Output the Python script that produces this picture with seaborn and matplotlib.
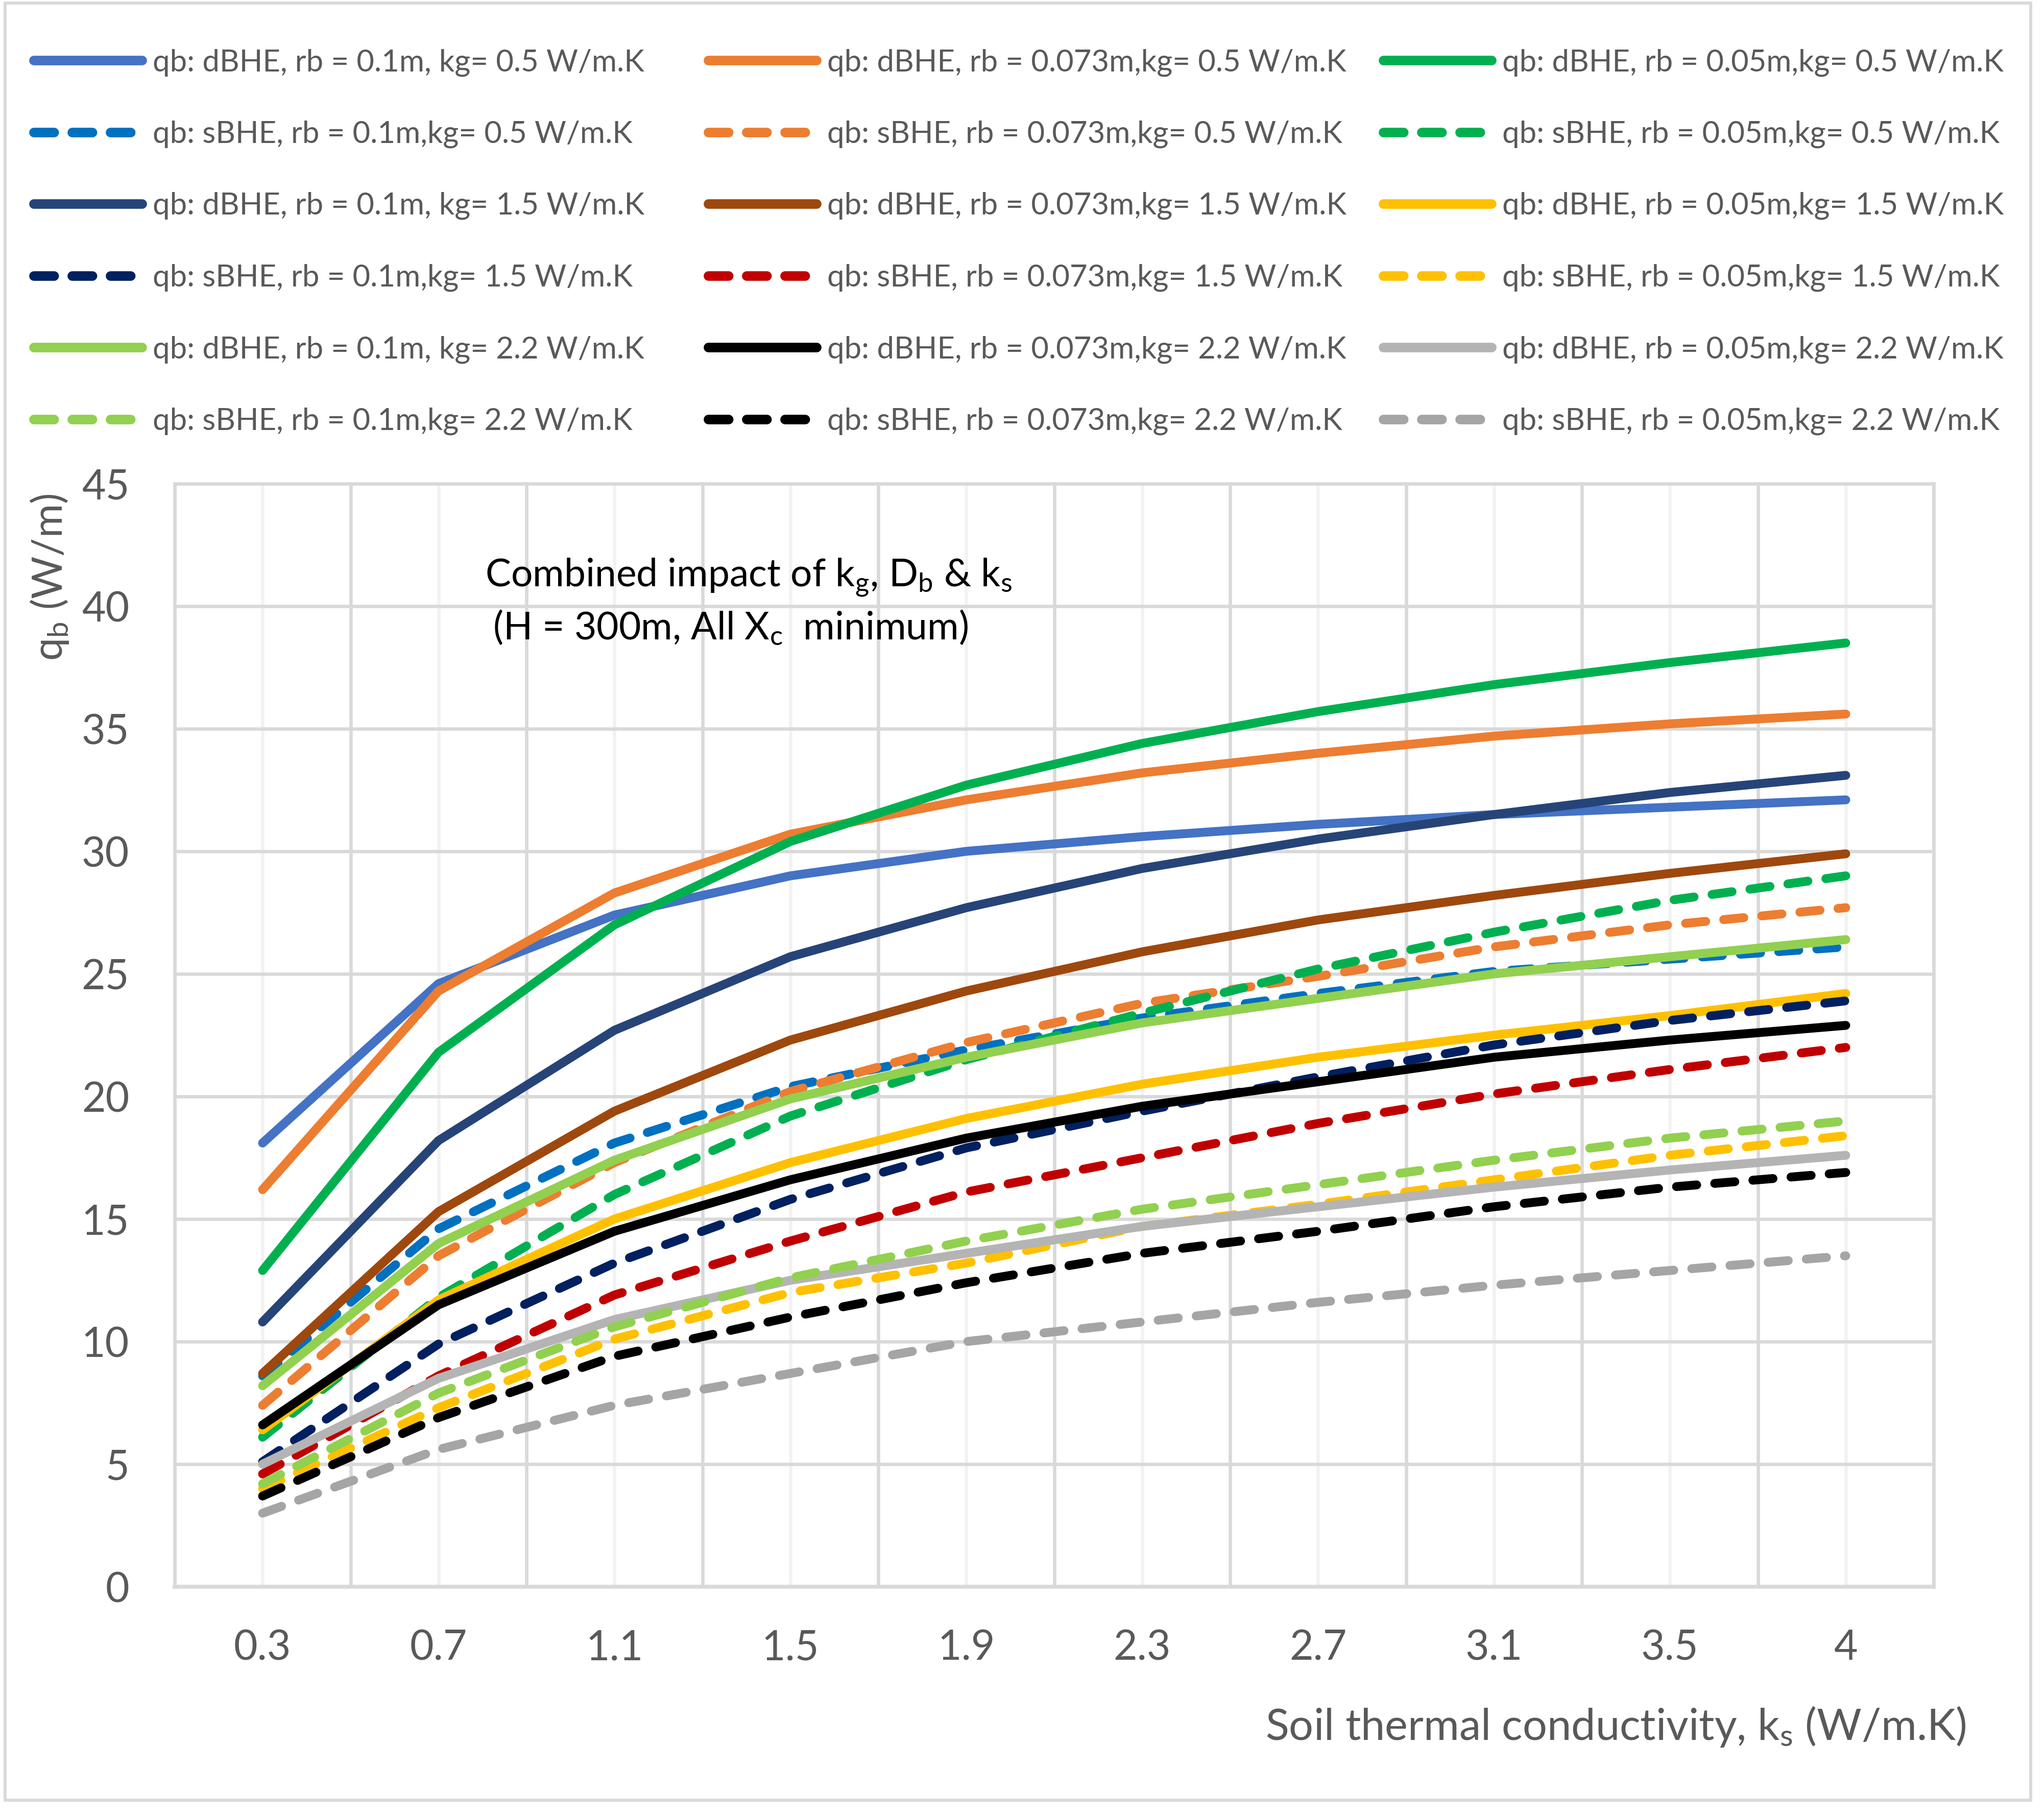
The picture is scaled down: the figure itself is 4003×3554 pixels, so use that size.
import numpy as np
import pandas as pd
import matplotlib
matplotlib.use('Agg')
import matplotlib.pyplot as plt
from matplotlib.lines import Line2D
from matplotlib.patches import Rectangle
import seaborn as sns

# soil thermal conductivity categories
ks_labels = ['0.3', '0.7', '1.1', '1.5', '1.9', '2.3', '2.7', '3.1', '3.5', '4']

# rb = 0.1 m
d_01_05 = [18.1, 24.6, 27.4, 29.0, 30.0, 30.6, 31.1, 31.5, 31.8, 32.1]
s_01_05 = [8.6, 14.6, 18.1, 20.4, 21.9, 23.2, 24.2, 25.1, 25.6, 26.1]
d_01_15 = [10.8, 18.2, 22.7, 25.7, 27.7, 29.3, 30.5, 31.5, 32.4, 33.1]
s_01_15 = [5.1, 9.9, 13.2, 15.8, 17.9, 19.4, 20.8, 22.1, 23.1, 23.9]
d_01_22 = [8.2, 14.0, 17.4, 19.9, 21.6, 23.0, 24.0, 25.0, 25.7, 26.4]
s_01_22 = [4.2, 7.9, 10.6, 12.6, 14.1, 15.4, 16.4, 17.4, 18.3, 19.0]

# rb = 0.073 m
d_073_05 = [16.2, 24.3, 28.3, 30.7, 32.1, 33.2, 34.0, 34.7, 35.2, 35.6]
s_073_05 = [7.4, 13.5, 17.3, 20.2, 22.2, 23.8, 24.9, 26.1, 27.0, 27.7]
d_073_15 = [8.7, 15.3, 19.4, 22.3, 24.3, 25.9, 27.2, 28.2, 29.1, 29.9]
s_073_15 = [4.6, 8.6, 11.9, 14.1, 16.1, 17.5, 18.9, 20.1, 21.1, 22.0]
d_073_22 = [6.6, 11.5, 14.5, 16.6, 18.3, 19.6, 20.6, 21.6, 22.3, 22.9]
s_073_22 = [3.7, 6.9, 9.4, 11.0, 12.4, 13.6, 14.5, 15.5, 16.3, 16.9]

# rb = 0.05 m
d_05_05 = [12.9, 21.8, 27.0, 30.4, 32.7, 34.4, 35.7, 36.8, 37.7, 38.5]
s_05_05 = [6.1, 11.8, 16.0, 19.2, 21.5, 23.4, 25.2, 26.7, 28.0, 29.0]
d_05_15 = [6.4, 11.7, 15.0, 17.3, 19.1, 20.5, 21.6, 22.5, 23.3, 24.2]
s_05_15 = [4.0, 7.3, 10.1, 12.0, 13.2, 14.7, 15.6, 16.6, 17.6, 18.4]
d_05_22 = [5.0, 8.5, 10.9, 12.5, 13.6, 14.7, 15.5, 16.3, 17.0, 17.6]
s_05_22 = [3.0, 5.6, 7.4, 8.7, 10.0, 10.8, 11.6, 12.3, 12.9, 13.5]

labels_01 = ['qb: dBHE, rb = 0.1m, kg= 0.5 W/m.K', 'qb: sBHE, rb = 0.1m,kg= 0.5 W/m.K',
             'qb: dBHE, rb = 0.1m, kg= 1.5 W/m.K', 'qb: sBHE, rb = 0.1m,kg= 1.5 W/m.K',
             'qb: dBHE, rb = 0.1m, kg= 2.2 W/m.K', 'qb: sBHE, rb = 0.1m,kg= 2.2 W/m.K']
labels_073 = ['qb: dBHE, rb = 0.073m,kg= 0.5 W/m.K', 'qb: sBHE, rb = 0.073m,kg= 0.5 W/m.K',
              'qb: dBHE, rb = 0.073m,kg= 1.5 W/m.K', 'qb: sBHE, rb = 0.073m,kg= 1.5 W/m.K',
              'qb: dBHE, rb = 0.073m,kg= 2.2 W/m.K', 'qb: sBHE, rb = 0.073m,kg= 2.2 W/m.K']
labels_05 = ['qb: dBHE, rb = 0.05m,kg= 0.5 W/m.K', 'qb: sBHE, rb = 0.05m,kg= 0.5 W/m.K',
             'qb: dBHE, rb = 0.05m,kg= 1.5 W/m.K', 'qb: sBHE, rb = 0.05m,kg= 1.5 W/m.K',
             'qb: dBHE, rb = 0.05m,kg= 2.2 W/m.K', 'qb: sBHE, rb = 0.05m,kg= 2.2 W/m.K']

colors_01 = ['#4472C4', '#0070C0', '#264478', '#002060', '#92D050', '#92D050']
colors_073 = ['#ED7D31', '#ED7D31', '#9E480E', '#C00000', '#000000', '#000000']
colors_05 = ['#00B050', '#00B050', '#FFC000', '#FFC000', '#B4B4B4', '#A5A5A5']

values_01 = [d_01_05, s_01_05, d_01_15, s_01_15, d_01_22, s_01_22]
values_073 = [d_073_05, s_073_05, d_073_15, s_073_15, d_073_22, s_073_22]
values_05 = [d_05_05, s_05_05, d_05_15, s_05_15, d_05_22, s_05_22]
dashed = [False, True, False, True, False, True]

columns = [(labels_01, colors_01, values_01), (labels_073, colors_073, values_073),
           (labels_05, colors_05, values_05)]

sns.set_style('white')
plt.rcParams['font.family'] = ['Lato', 'DejaVu Sans']
plt.rcParams['lines.scale_dashes'] = False

W, H = 4003, 3554
DASH = (28.5, 25.5)
LW = 12.5
GRID = '#D9D9D9'
TXT = '#595959'

# long table, rows in Excel series order (row-major over legend)
rows = []
order = []
pal = {}
dash_map = {}
for r in range(6):
    for labels, colors, values in columns:
        lab = labels[r]
        order.append(lab)
        pal[lab] = colors[r]
        dash_map[lab] = DASH if dashed[r] else ''
        for i, v in enumerate(values[r]):
            rows.append({'x': i, 'qb': v, 'series': lab})
df = pd.DataFrame(rows)

fig = plt.figure(figsize=(W / 100, H / 100), dpi=100)
ax = fig.add_axes([342 / W, 1 - 3107 / H, 3445 / W, 2160 / H])

sns.lineplot(data=df, x='x', y='qb', hue='series', style='series', hue_order=order,
             style_order=order, palette=pal, dashes=dash_map, linewidth=LW,
             estimator=None, sort=False, legend=False, ax=ax)
for ln in ax.lines:
    ln.set_solid_capstyle('round')
    ln.set_dash_capstyle('round')
    ln.set_solid_joinstyle('round')
    ln.set_dash_joinstyle('round')

ax.set_xlim(-0.5, 9.5)
ax.set_ylim(0, 45)
ax.set_xticks(range(len(ks_labels)))
ax.set_xticklabels(ks_labels)
ax.set_xticks(np.arange(-0.5, 10, 1.0), minor=True)
ax.set_yticks(range(0, 46, 5))
ax.set_axisbelow(True)
ax.grid(axis='y', which='major', color=GRID, lw=4.7)
ax.grid(axis='x', which='major', color='#F2F2F2', lw=4.7)
ax.grid(axis='x', which='minor', color=GRID, lw=4.7)
ax.tick_params(axis='both', which='major', length=0, labelsize=58, labelcolor=TXT)
ax.tick_params(axis='x', which='major', pad=60)
ax.tick_params(axis='y', which='major', pad=64)
ax.tick_params(axis='x', which='minor', length=21, width=4.5, color=GRID, direction='out')
for sp in ax.spines.values():
    sp.set_color(GRID)
    sp.set_linewidth(4.7)
ax.spines['bottom'].set_linewidth(5.5)
ax.set_xlabel('')
ax.set_ylabel('')

fig.text(97 / W, 1 - 967 / H, r'q$\mathregular{_b}$ (W/m)', rotation=90, ha='center',
         va='top', fontsize=58, color=TXT)
fig.text(3850 / W, 1 - 3407 / H, r'Soil thermal conductivity, k$\mathregular{_s}$ (W/m.K)',
         ha='right', va='baseline', fontsize=61, color=TXT)

fig.text(950 / W, 1 - 1147 / H,
         r'Combined impact of k$\mathregular{_g}$, D$\mathregular{_b}$ & k$\mathregular{_s}$',
         ha='left', va='baseline', fontsize=54, color='black')
fig.text(965 / W, 1 - 1252 / H, r'(H = 300m, All X$\mathregular{_c}$  minimum)',
         ha='left', va='baseline', fontsize=54, color='black')

# legend: three columns placed like the Excel legend
x0 = [66, 1387, 2709]
for c, (labels, colors, values) in enumerate(columns):
    handles = []
    for r in range(6):
        h = Line2D([0], [0], color=colors[r], lw=13.5, solid_capstyle='round',
                   dash_capstyle='round')
        if dashed[r]:
            h.set_dashes(DASH)
        handles.append(h)
    fig.legend(handles, labels, loc='upper left', bbox_to_anchor=(x0[c] / W, 1 - 95 / H),
               frameon=False, fontsize=43, handlelength=3.55, handletextpad=0.35,
               labelspacing=1.44, borderpad=0, borderaxespad=0, labelcolor=TXT)

fig.patches.append(Rectangle((10 / W, 1 - 3525 / H), 3967 / W, 3519 / H,
                             transform=fig.transFigure, fill=False, ec=GRID, lw=4.3))

fig.savefig('out.png', dpi=100, facecolor='white')
